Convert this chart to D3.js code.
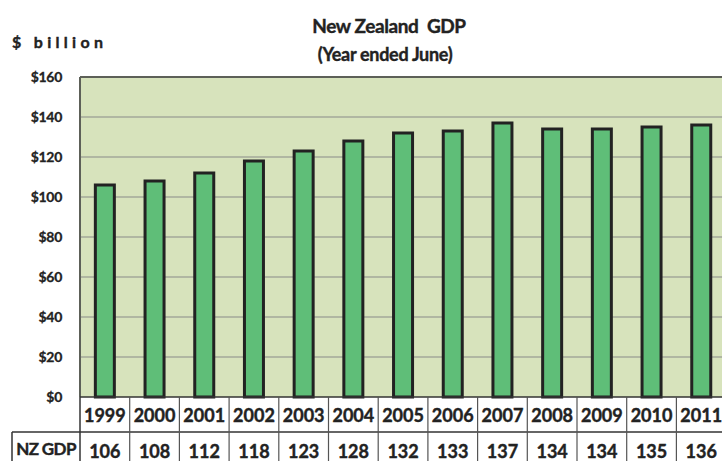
<!DOCTYPE html>
<html><head><meta charset="utf-8">
<script src="https://cdn.jsdelivr.net/npm/d3@7"></script>
<style>body{margin:0;background:#fff}svg{display:block;font-family:Lato,"Open Sans",sans-serif}</style>
</head><body><svg id="c" width="722" height="461"></svg>
<script>
const years = ["1999","2000","2001","2002","2003","2004","2005","2006","2007","2008","2009","2010","2011"];
const gdp = [106,108,112,118,123,128,132,133,137,134,134,135,136];
const yTicks = [0,20,40,60,80,100,120,140,160];
const tickLabels = ["$0","$20","$40","$60","$80","$100","$120","$140","$160"];

const svg = d3.select("#c");
const L = 80, T = 77, B = 397, step = 49.7;
const x = d3.scaleBand().domain(years).range([L, L + step*years.length]).paddingInner(0).paddingOuter(0);
const y = d3.scaleLinear().domain([0,160]).range([B, T]);

svg.append("rect").attr("x", L).attr("y", T).attr("width", 722 - L + 10).attr("height", B - T).attr("fill", "#d7e3bc");
svg.append("g").selectAll("line").data(yTicks.filter(d => d > 0 && d < 160)).join("line")
  .attr("x1", L).attr("x2", 730).attr("y1", d => y(d)).attr("y2", d => y(d))
  .attr("stroke", "#a3a89a").attr("stroke-width", 1.5);
svg.append("line").attr("x1", L).attr("x2", 730).attr("y1", T).attr("y2", T).attr("stroke", "#5d6058").attr("stroke-width", 2);
svg.append("line").attr("x1", L).attr("x2", L).attr("y1", T).attr("y2", B).attr("stroke", "#5d6058").attr("stroke-width", 2);

const yAxis = d3.axisLeft(y).tickValues(yTicks).tickFormat((d,i) => tickLabels[i]).tickSize(0).tickPadding(18);
const ga = svg.append("g").attr("transform", `translate(${L},0)`).call(yAxis);
ga.select(".domain").remove();
ga.selectAll("text").attr("font-family","Lato,sans-serif").attr("font-size", 14).attr("font-weight", "bold").attr("fill", "#222").attr("letter-spacing", -0.3)
  .attr("stroke", "#222").attr("stroke-width", 0.3);

const bw = 19;
svg.append("g").selectAll("rect").data(gdp).join("rect")
  .attr("x", (d,i) => x(years[i]) + x.bandwidth()/2 - bw/2)
  .attr("y", d => y(d))
  .attr("width", bw)
  .attr("height", d => B - y(d))
  .attr("fill", "#5fbe78").attr("stroke", "#222").attr("stroke-width", 3);

const r1 = B, r2 = 432, r3 = 470;
const tg = svg.append("g");
tg.append("line").attr("x1", L).attr("x2", 730).attr("y1", r1).attr("y2", r1).attr("stroke", "#333").attr("stroke-width", 1.5);
tg.append("line").attr("x1", 12).attr("x2", 730).attr("y1", r2).attr("y2", r2).attr("stroke", "#333").attr("stroke-width", 1.5);
tg.append("line").attr("x1", 12).attr("x2", 12).attr("y1", r2).attr("y2", r3).attr("stroke", "#333").attr("stroke-width", 1.5);
tg.append("line").attr("x1", L).attr("x2", L).attr("y1", B).attr("y2", r3).attr("stroke", "#333").attr("stroke-width", 1.5);
tg.selectAll("line.col").data(years.slice(1)).join("line").attr("class","col")
  .attr("x1", d => x(d)).attr("x2", d => x(d)).attr("y1", r1).attr("y2", r3)
  .attr("stroke", "#555").attr("stroke-width", 1.2);
const boldish = s => s.attr("stroke", "#222").attr("stroke-width", 0.4);
tg.selectAll("text.yr").data(years).join("text").attr("class","yr")
  .attr("x", d => x(d) + x.bandwidth()/2).attr("y", 422)
  .attr("text-anchor","middle").attr("font-size", 18).attr("font-weight","bold").attr("fill","#222").call(boldish).text(d => d);
tg.selectAll("text.val").data(gdp).join("text").attr("class","val")
  .attr("x", (d,i) => x(years[i]) + x.bandwidth()/2).attr("y", 458)
  .attr("text-anchor","middle").attr("font-size", 18).attr("font-weight","bold").attr("fill","#222").call(boldish).text(d => d);
tg.append("text").attr("x", 46).attr("y", 455).attr("text-anchor","middle").attr("font-size", 17).attr("font-weight","bold").attr("fill","#222").attr("letter-spacing", -0.6).call(boldish).text("NZ GDP");

svg.append("text").attr("x", 389).attr("y", 33).attr("text-anchor","middle").attr("font-size", 19).attr("font-weight","bold").attr("fill","#222").attr("letter-spacing", -0.4).attr("xml:space","preserve").call(boldish).text("New Zealand  GDP");
svg.append("text").attr("x", 385).attr("y", 61).attr("text-anchor","middle").attr("font-size", 18).attr("font-weight","bold").attr("fill","#222").attr("letter-spacing", -0.3).call(boldish).text("(Year ended June)");
svg.append("text").attr("x", 12).attr("y", 48).attr("font-size", 16).attr("font-weight","bold").attr("fill","#222").attr("letter-spacing", 4.3).call(boldish).text("$ billion");
</script></body></html>
